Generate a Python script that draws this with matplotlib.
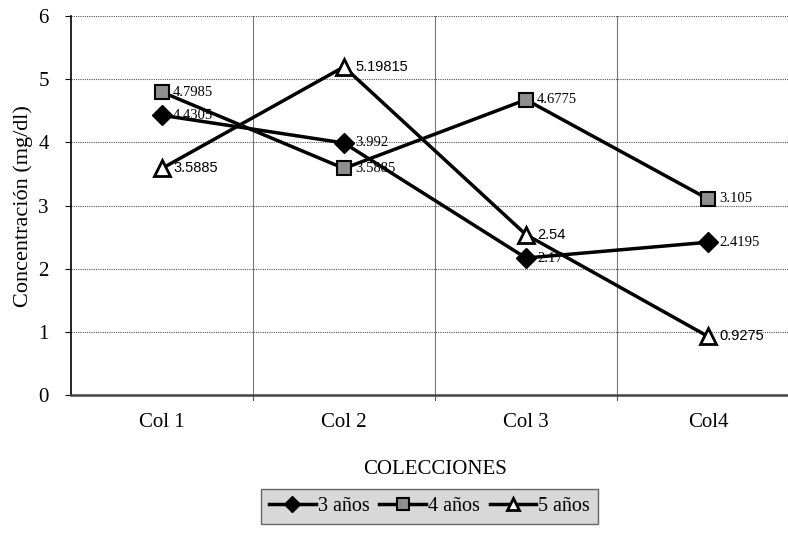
import matplotlib.pyplot as plt

# data
colecciones = ["Col 1", "Col 2", "Col 3", "Col4"]
anos3 = [4.4305, 3.992, 2.17, 2.4195]
anos4 = [4.7985, 3.5885, 4.6775, 3.105]
anos5 = [3.5885, 5.19815, 2.54, 0.9275]
etiq3 = ["4.4305", "3.992", "2.17", "2.4195"]
etiq4 = ["4.7985", "3.5885", "4.6775", "3.105"]
etiq5 = ["3.5885", "5.19815", "2.54", "0.9275"]

plt.rcParams["font.family"] = ["Liberation Serif", "DejaVu Serif"]

fig = plt.figure(figsize=(7.88, 5.49), dpi=100)
ax = fig.add_axes([0.090, 0.2805, 0.924, 0.690])

x = list(range(len(colecciones)))
ax.plot(x, anos3, color="black", lw=2.5, marker="D", ms=10,
        mfc="black", mec="black", label="3 años", zorder=3)
ax.plot(x, anos4, color="black", lw=2.5, marker="s", ms=10,
        mfc="#8f8f8f", mec="black", mew=1.5, label="4 años", zorder=3)
ax.plot(x, anos5, color="black", lw=2.5, marker="^", ms=11,
        mfc="white", mec="black", mew=2, label="5 años", zorder=3)

# data labels (the 5 años ones are in a sans font in the original)
serif = ["Liberation Serif", "DejaVu Serif"]
sans = ["Liberation Sans", "DejaVu Sans"]
for serie, etiq, fam in [(anos3, etiq3, serif), (anos4, etiq4, serif),
                         (anos5, etiq5, sans)]:
    for xi, yi, t in zip(x, serie, etiq):
        ax.annotate(t, (xi, yi), xytext=(8, 0), textcoords="offset points",
                    va="center", ha="left", fontsize=10.5, family=fam, zorder=4)

ax.set_xlim(-0.5, 3.5)
ax.set_ylim(0, 6)
ax.set_yticks(range(0, 7))
ax.set_xticks(x)
ax.set_xticklabels(colecciones)
ax.tick_params(axis="both", labelsize=15, length=4)
ax.tick_params(axis="y", pad=12)
ax.tick_params(axis="x", length=0, pad=13)

# gridlines
for yv in range(1, 7):
    ax.axhline(yv, color="#555555", lw=0.8, ls=(0, (1, 1)), zorder=1)
for xv in [0.5, 1.5, 2.5]:
    ax.axvline(xv, color="#777777", lw=0.8, zorder=1)
for xv in [0.5, 1.5, 2.5]:
    ax.plot([xv, xv], [0, -0.08], color="#555555", lw=0.8, clip_on=False)

ax.spines["top"].set_visible(False)
ax.spines["right"].set_visible(False)
ax.spines["bottom"].set_color("#444444")
ax.spines["bottom"].set_linewidth(1.8)
ax.spines["bottom"].set_linestyle((0, (1, 1)))
ax.spines["left"].set_linewidth(1.2)

ax.set_xlabel("COLECCIONES", fontsize=15, labelpad=20)
ax.set_ylabel("Concentración (mg/dl)", fontsize=16, labelpad=4)

leg = fig.legend(loc="center", bbox_to_anchor=(0.545, 0.0775), ncol=3,
                 fontsize=14.5, handlelength=2.3, columnspacing=0.5,
                 handletextpad=0.1, frameon=True, fancybox=False,
                 borderpad=0.4, markerscale=0.85)
leg.get_frame().set_facecolor("#cfcfcf")
leg.get_frame().set_edgecolor("#444444")
leg.get_frame().set_linewidth(1.0)

fig.savefig("out.png", dpi=100)
